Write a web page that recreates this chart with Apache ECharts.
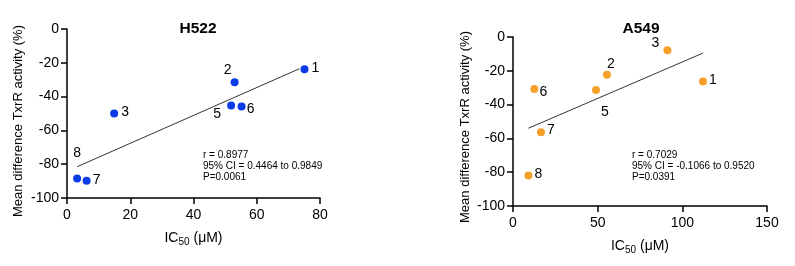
<!DOCTYPE html>
<html><head><meta charset="utf-8">
<script src="https://cdn.jsdelivr.net/npm/echarts@6/dist/echarts.min.js"></script>
<style>html,body{margin:0;padding:0;background:#fff}#c{width:795px;height:266px}</style>
</head><body><div id="c"></div>
<script>
// ---- data ----
const h522Labels = ['1','2','3','5','6','7','8'];
const h522X = [75.1, 53.0, 14.9, 51.9, 55.2, 6.2, 3.2];
const h522Y = [-23.8, -31.5, -50.0, -45.3, -45.9, -89.8, -88.4];
const h522Fit = [[3.2, -81.5], [73.5, -23.5]];
const h522Stats = ['r = 0.8977', '95% CI = 0.4464 to 0.9849', 'P=0.0061'];

const a549Labels = ['1','2','3','5','6','7','8'];
const a549X = [112.2, 55.5, 91.2, 49.0, 12.6, 16.5, 9.1];
const a549Y = [-26.3, -22.3, -7.9, -31.4, -30.8, -56.3, -82.0];
const a549Fit = [[9.1, -54.0], [112.2, -9.5]];
const a549Stats = ['r = 0.7029', '95% CI = -0.1066 to 0.9520', 'P=0.0391'];

const titles = ['H522', 'A549'];
const xName = 'IC{s|50} (μM)';
const yName = 'Mean difference TxrR activity (%)';

// ---- styling (label offsets per point, px) ----
const h522Off = {'1':[11,-1],'2':[-7,-12],'3':[11,-1],'5':[-14,9],'6':[9,3],'7':[10,-1],'8':[0,-25]};
const a549Off = {'1':[10,-1],'2':[4,-11],'3':[-12,-7],'5':[9,22],'6':[9,3],'7':[10,-2],'8':[10,-1]};

const FONT = '"Liberation Sans", Arial, Helvetica, sans-serif';
const chart = echarts.init(document.getElementById('c'));

function axisCommon(){
  return {
    axisLine:{show:true,onZero:false,lineStyle:{color:'#000',width:1.5}},
    axisTick:{show:true,length:6,lineStyle:{color:'#000',width:1.5}},
    splitLine:{show:false},
    axisLabel:{color:'#000',fontSize:14,fontFamily:FONT}
  };
}
function xAxis(gi,max,interval){
  const a = axisCommon();
  a.axisLabel.margin = 10;
  return Object.assign(a,{
    type:'value',gridIndex:gi,min:0,max:max,interval:interval,
    name:xName,nameLocation:'middle',nameGap:31,
    nameTextStyle:{color:'#000',fontSize:14,fontFamily:FONT,
      rich:{s:{fontSize:10,fontFamily:FONT,color:'#000',padding:[8,0,0,0]}}}
  });
}
function yAxis(gi){
  const a = axisCommon();
  a.axisLabel.margin = 8;
  return Object.assign(a,{
    type:'value',gridIndex:gi,min:-100,max:0,interval:20
  });
}
function pts(xs,ys,labs,off){
  return xs.map((x,i)=>({value:[x,ys[i]],name:labs[i],
    label:{offset:off[labs[i]]}}));
}
function scatter(gi,data,color){
  return {type:'scatter',xAxisIndex:gi,yAxisIndex:gi,data:data,symbolSize:8,
    itemStyle:{color:color,opacity:1},z:3,
    label:{show:true,position:'inside',formatter:p=>p.name,color:'#000',
      fontSize:14,fontFamily:FONT}};
}
function fit(gi,data){
  return {type:'line',xAxisIndex:gi,yAxisIndex:gi,data:data,symbol:'none',
    lineStyle:{color:'#333',width:1},z:2,silent:true};
}
function stats(lines,x,y){
  return {type:'text',left:x,top:y,style:{text:lines.join('\n'),fill:'#000',
    font:'10px '+FONT,lineHeight:10.8}};
}
function yTitle(cx,cy){
  return {type:'text',x:cx,y:cy,rotation:Math.PI/2,
    style:{text:yName,fill:'#000',font:'13px '+FONT,align:'center',verticalAlign:'middle'}};
}

chart.setOption({
  animation:false,
  title:[
    {text:titles[0],left:193,top:16,textAlign:'center',textStyle:{fontSize:15.5,fontWeight:'bold',fontFamily:FONT,color:'#000'}},
    {text:titles[1],left:636,top:16,textAlign:'center',textStyle:{fontSize:15.5,fontWeight:'bold',fontFamily:FONT,color:'#000'}}
  ],
  grid:[
    {left:67,top:29,width:253,height:169},
    {left:513,top:37,width:254,height:169}
  ],
  xAxis:[xAxis(0,80,20),xAxis(1,150,50)],
  yAxis:[yAxis(0),yAxis(1)],
  series:[
    fit(0,h522Fit),
    scatter(0,pts(h522X,h522Y,h522Labels,h522Off),'#0b3be6'),
    fit(1,a549Fit),
    scatter(1,pts(a549X,a549Y,a549Labels,a549Off),'#f5a02a')
  ],
  graphic:[stats(h522Stats,203,150),stats(a549Stats,632,150),yTitle(18,121),yTitle(465,127)]
});
</script></body></html>
